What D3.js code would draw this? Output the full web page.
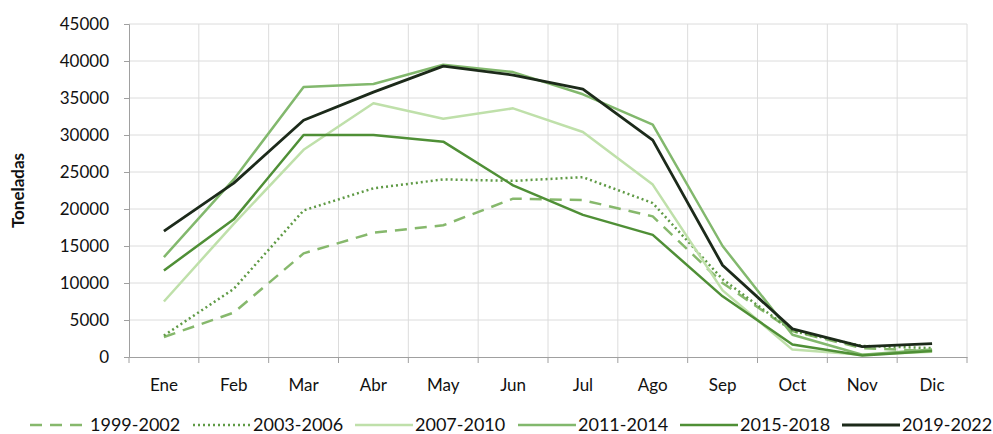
<!DOCTYPE html>
<html><head><meta charset="utf-8">
<script src="https://cdn.jsdelivr.net/npm/d3@7"></script>
<style>
body{margin:0;background:#fff;}
svg{display:block;font-family:Lato, "Open Sans", sans-serif;}
</style></head>
<body><svg id="chart" width="993" height="434"></svg>
<script>
const months = ["Ene","Feb","Mar","Abr","May","Jun","Jul","Ago","Sep","Oct","Nov","Dic"];
const yTicks = [0,5000,10000,15000,20000,25000,30000,35000,40000,45000];
const seriesNames = ["1999-2002","2003-2006","2007-2010","2011-2014","2015-2018","2019-2022"];
const s1999 = [2700,6000,14000,16800,17800,21400,21200,19000,10000,3500,1200,800];
const s2003 = [2900,9200,19800,22800,24000,23800,24300,20800,10500,3500,1500,1200];
const s2007 = [7500,18000,28000,34300,32200,33600,30400,23300,9000,1000,300,700];
const s2011 = [13500,24000,36500,36900,39500,38500,35500,31400,15000,3000,300,1000];
const s2015 = [11700,18600,30000,30000,29100,23200,19200,16500,8200,1700,200,800];
const s2019 = [17000,23500,32000,35800,39300,38100,36200,29300,12400,3800,1400,1800];
const seriesValues = [s1999,s2003,s2007,s2011,s2015,s2019];
const colors = ["#86b86c","#5f9a45","#bfe0aa","#82b86d","#4f8f36","#1c2a1a"];
const dashes = ["12,8","2,3",null,null,null,null];
const widths = [2.5,2.5,2.5,2.5,2.5,2.8];

const svg = d3.select("#chart");
const m = {l:129, r:26, t:24, b:77};
const W = 993, H = 434;
const x = d3.scaleBand().domain(months).range([m.l, W-m.r]);
const y = d3.scaleLinear().domain([0,45000]).range([H-m.b, m.t]);

// gridlines
const g = svg.append("g");
g.selectAll("line.h").data(yTicks.slice(1)).enter().append("line")
  .attr("x1", m.l).attr("x2", W-m.r).attr("y1", d=>y(d)).attr("y2", d=>y(d))
  .attr("stroke", "#dcdcdc").attr("stroke-width", 1);
const bounds = months.map(mo => x(mo)).slice(1).concat([W-m.r]);
g.selectAll("line.v").data(bounds).enter().append("line")
  .attr("x1", d=>d).attr("x2", d=>d).attr("y1", m.t).attr("y2", H-m.b)
  .attr("stroke", "#dcdcdc").attr("stroke-width", 1);

// axes
const yAxis = svg.append("g").attr("transform", `translate(${m.l},0)`)
  .call(d3.axisLeft(y).tickValues(yTicks).tickSize(5).tickPadding(15).tickFormat(d3.format("d")));
yAxis.select(".domain").attr("stroke", "#a0a0a0");
yAxis.selectAll(".tick line").attr("stroke", "#a0a0a0");
yAxis.selectAll("text").attr("font-size", 17).attr("fill", "#111").attr("font-family", "Lato");

const xAxis = svg.append("g").attr("transform", `translate(0,${H-m.b})`)
  .call(d3.axisBottom(x).tickSize(0).tickPadding(22));
xAxis.select(".domain").attr("stroke", "#a0a0a0");
xAxis.selectAll("text").attr("font-size", 17).attr("fill", "#111").attr("font-family", "Lato");
svg.append("g").selectAll("line").data([m.l].concat(bounds)).enter().append("line")
  .attr("x1", d=>d).attr("x2", d=>d).attr("y1", H-m.b).attr("y2", H-m.b+6)
  .attr("stroke", "#a0a0a0");

// y title
svg.append("text").attr("transform", `translate(24,${(m.t+H-m.b)/2}) rotate(-90)`)
  .attr("text-anchor","middle").attr("font-size",17).attr("font-weight","bold")
  .attr("fill","#111").text("Toneladas");

// lines
const line = d3.line().x((d,i)=>x(months[i]) + x.bandwidth()/2).y(d=>y(d));
seriesValues.forEach((vals,k)=>{
  svg.append("path").datum(vals).attr("d", line).attr("fill","none")
    .attr("stroke", colors[k]).attr("stroke-width", widths[k])
    .attr("stroke-linejoin","round")
    .attr("stroke-dasharray", dashes[k]);
});

// legend
const legX = [30,193,355,518,680,842];
const leg = svg.append("g");
seriesNames.forEach((n,k)=>{
  const lx = legX[k], ly = 425;
  leg.append("line").attr("x1", lx).attr("x2", lx+58).attr("y1", ly).attr("y2", ly)
    .attr("stroke", colors[k]).attr("stroke-width", widths[k])
    .attr("stroke-dasharray", dashes[k]);
  leg.append("text").attr("x", lx+60).attr("y", ly+6).attr("font-size",18)
    .attr("fill","#111").text(n);
});
</script></body></html>
